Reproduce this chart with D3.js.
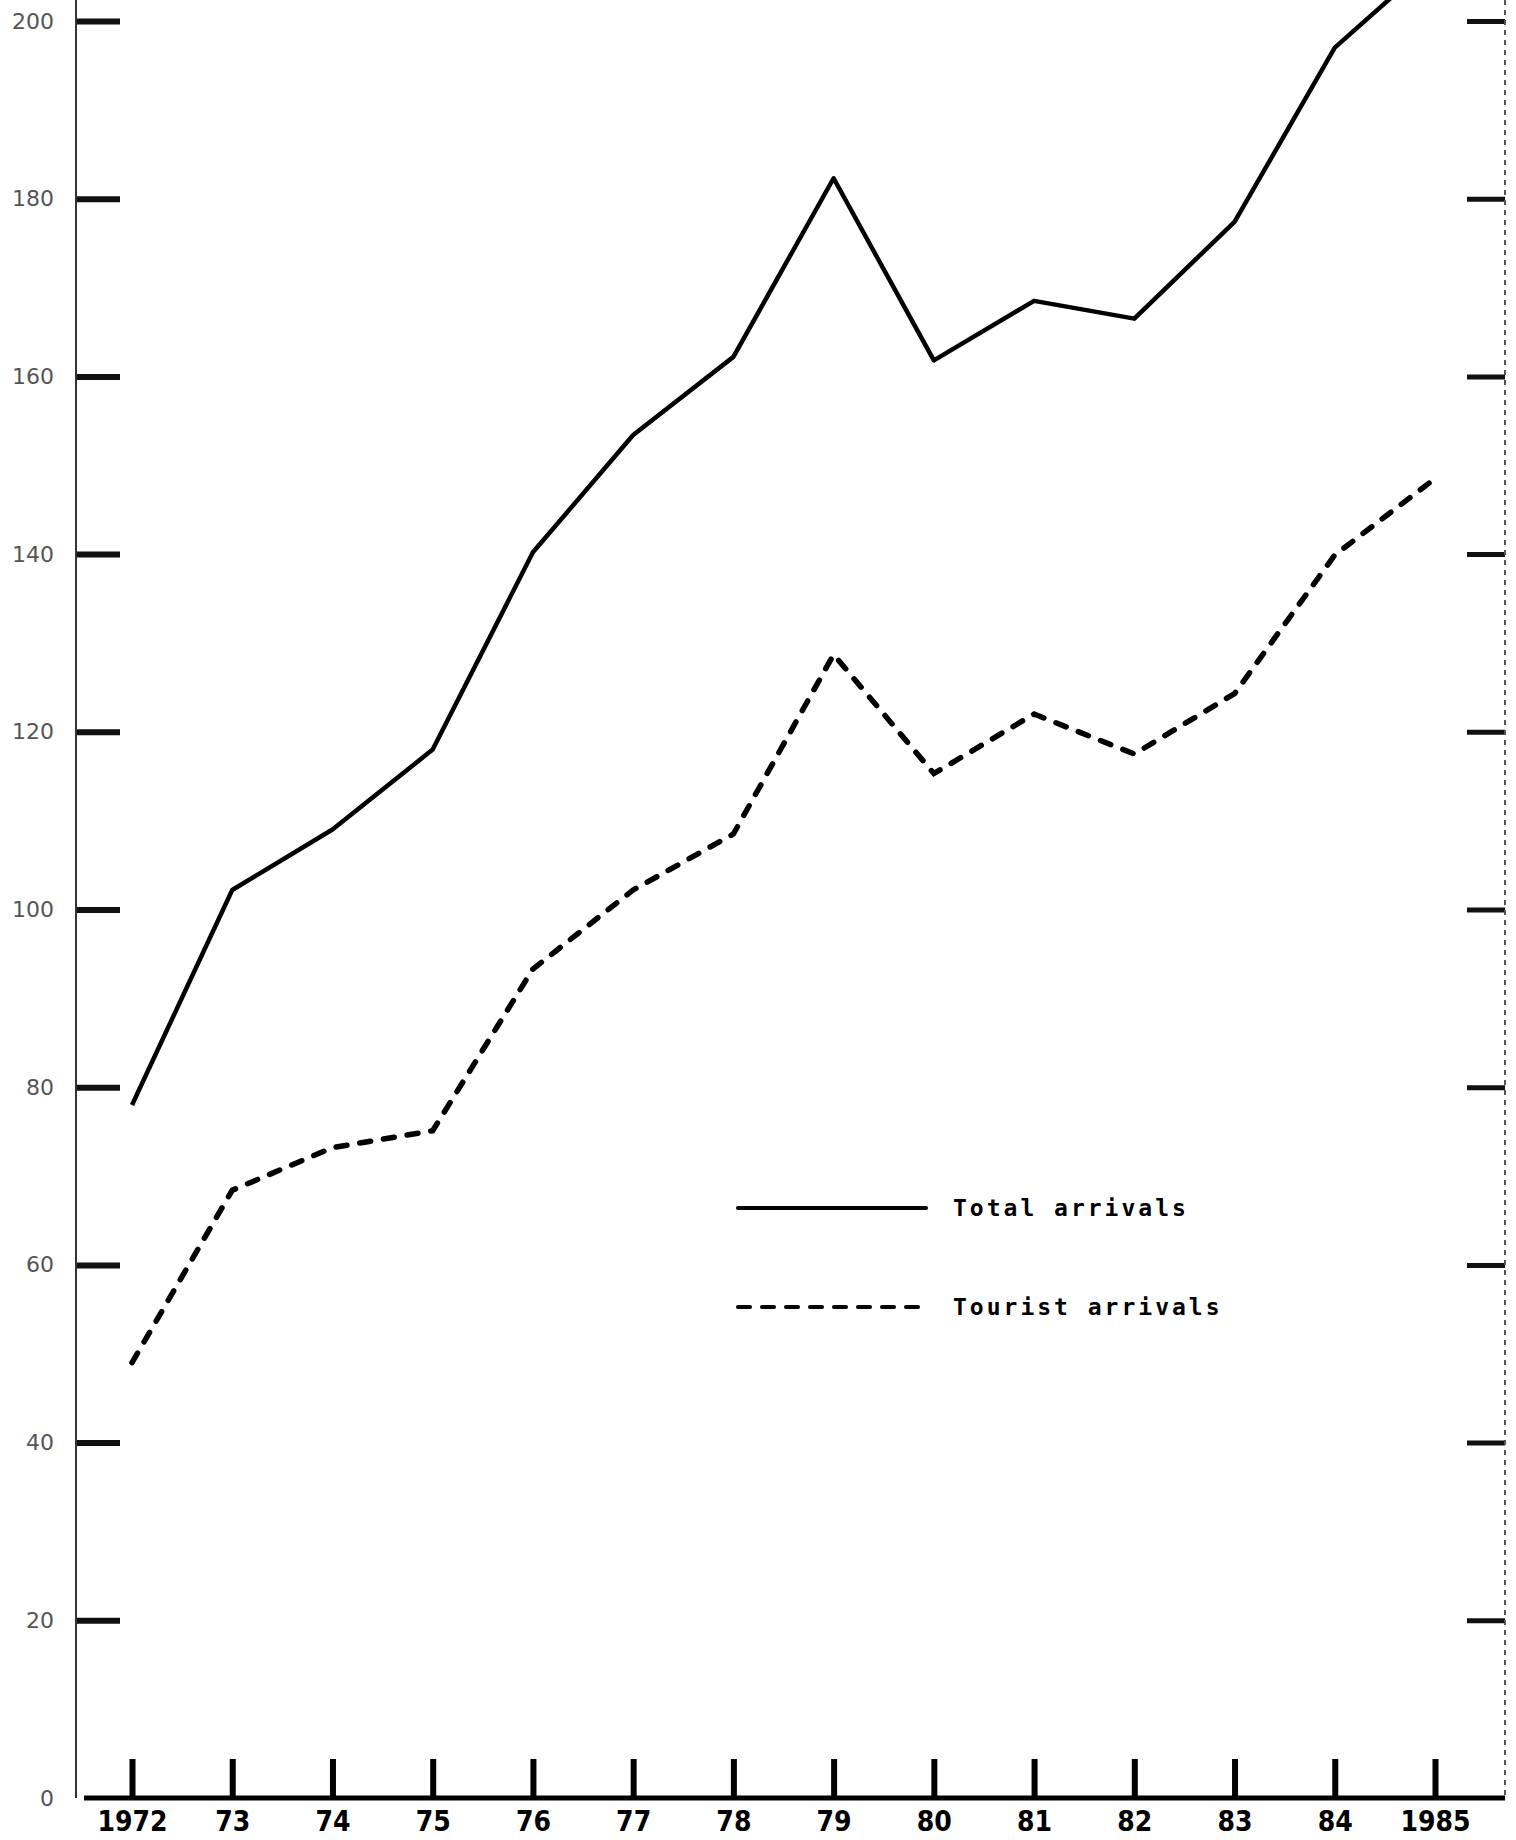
<!DOCTYPE html>
<html>
<head>
<meta charset="utf-8">
<script src="https://cdn.jsdelivr.net/npm/d3@7"></script>
<style>
  html, body { margin: 0; padding: 0; background: #fff; }
  svg { display: block; }
</style>
</head>
<body>
<div id="chart"></div>
<script>
// 年份 / 数据 (千人)
const years = [1972, 1973, 1974, 1975, 1976, 1977, 1978, 1979, 1980, 1981, 1982, 1983, 1984, 1985];
const yearLabels = ['1972', '73', '74', '75', '76', '77', '78', '79', '80', '81', '82', '83', '84', '1985'];
const totalArrivals = [78, 102.2, 109, 118, 140.2, 153.4, 162.2, 182.3, 161.8, 168.5, 166.5, 177.4, 197, 207];
const touristArrivals = [49, 68.4, 73.2, 75.1, 93.3, 102.2, 108.5, 128.7, 115.3, 122, 117.5, 124.3, 139.9, 148.5];
const yTicks = [0, 20, 40, 60, 80, 100, 120, 140, 160, 180, 200];
const seriesNames = ['Total arrivals', 'Tourist arrivals'];

const width = 1516, height = 1840;
const leftX = 76, rightX = 1505;

const svg = d3.select('#chart').append('svg')
    .attr('width', width)
    .attr('height', height);

svg.append('rect').attr('width', width).attr('height', height).attr('fill', '#fff');

const x = d3.scaleLinear().domain([1972, 1985]).range([132, 1435]);
const y = d3.scaleLinear().domain([0, 200]).range([1798, 21]);

// 左轴
const left = svg.append('g')
    .attr('transform', `translate(${leftX},0)`)
    .call(d3.axisLeft(y).tickValues(yTicks).tickSizeInner(-44).tickSizeOuter(0).tickPadding(22));
left.select('.domain').remove();
left.selectAll('.tick line')
    .attr('stroke', '#111')
    .attr('stroke-width', 6)
    .attr('display', d => d === 0 ? 'none' : null);
left.selectAll('.tick text')
    .attr('fill', '#555')
    .attr('font-family', 'DejaVu Sans')
    .attr('font-size', 22);
svg.append('line')
    .attr('x1', leftX).attr('x2', leftX)
    .attr('y1', 0).attr('y2', y(0))
    .attr('stroke', '#333').attr('stroke-width', 2);

// 右轴 (无标签)
const right = svg.append('g')
    .attr('transform', `translate(${rightX},0)`)
    .call(d3.axisRight(y).tickValues(yTicks.slice(1)).tickSizeInner(-38).tickSizeOuter(0).tickFormat(''));
right.select('.domain').remove();
right.selectAll('.tick line').attr('stroke', '#111').attr('stroke-width', 5);
svg.append('line')
    .attr('x1', rightX).attr('x2', rightX)
    .attr('y1', 0).attr('y2', y(0))
    .attr('stroke', '#555').attr('stroke-width', 2)
    .attr('stroke-dasharray', '5,5');

// 底轴
const bottom = svg.append('g')
    .attr('transform', `translate(0,${y(0)})`)
    .call(d3.axisBottom(x).tickValues(years).tickFormat((d, i) => yearLabels[i])
        .tickSizeInner(-39).tickSizeOuter(0).tickPadding(13));
bottom.select('.domain').remove();
bottom.selectAll('.tick line').attr('stroke', '#000').attr('stroke-width', 6);
bottom.selectAll('.tick text')
    .attr('fill', '#000')
    .attr('font-family', '"DejaVu Sans Condensed", "DejaVu Sans"')
    .attr('font-stretch', 'condensed')
    .attr('font-weight', 'bold')
    .attr('font-size', 28);
svg.append('line')
    .attr('x1', 84).attr('x2', rightX)
    .attr('y1', y(0)).attr('y2', y(0))
    .attr('stroke', '#000').attr('stroke-width', 5);

// 折线
const line = d3.line()
    .x((d, i) => x(years[i]))
    .y(d => y(d));

svg.append('path')
    .datum(totalArrivals)
    .attr('d', line)
    .attr('fill', 'none')
    .attr('stroke', '#000')
    .attr('stroke-width', 4.5)
    .attr('stroke-linejoin', 'round');

svg.append('path')
    .datum(touristArrivals)
    .attr('d', line)
    .attr('fill', 'none')
    .attr('stroke', '#000')
    .attr('stroke-width', 5.5)
    .attr('stroke-linecap', 'round')
    .attr('stroke-dasharray', '11,13');

// 图例
const legend = svg.append('g').attr('transform', 'translate(738,1208)');
seriesNames.forEach((name, i) => {
    const row = legend.append('g').attr('transform', `translate(0,${i * 99})`);
    row.append('line')
        .attr('x1', 0).attr('x2', 188)
        .attr('stroke', '#000')
        .attr('stroke-width', 4)
        .attr('stroke-linecap', 'round')
        .attr('stroke-dasharray', i === 0 ? null : '12,12');
    row.append('text')
        .attr('x', 215)
        .attr('y', 8)
        .attr('font-family', '"DejaVu Sans Mono", monospace')
        .attr('font-weight', 'bold')
        .attr('font-size', 23)
        .attr('letter-spacing', 3)
        .attr('fill', '#000')
        .text(name);
});
</script>
</body>
</html>
